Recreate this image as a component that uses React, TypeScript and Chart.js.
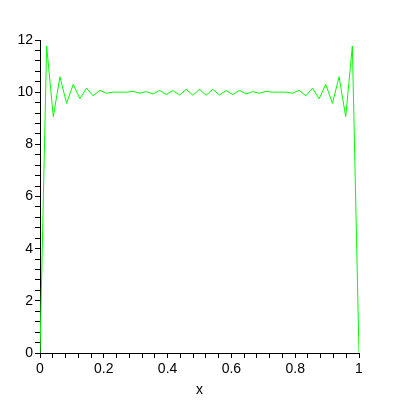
import React, { useEffect, useRef } from "react";
import { Chart, registerables } from "chart.js";

Chart.register(...registerables);

// sample positions along x (49 samples on [0, 1])
const xValues: number[] = [
  0, 0.0208, 0.0417, 0.0625, 0.0833, 0.1042, 0.125, 0.1458, 0.1667, 0.1875,
  0.2083, 0.2292, 0.25, 0.2708, 0.2917, 0.3125, 0.3333, 0.3542, 0.375, 0.3958,
  0.4167, 0.4375, 0.4583, 0.4792, 0.5, 0.5208, 0.5417, 0.5625, 0.5833, 0.6042,
  0.625, 0.6458, 0.6667, 0.6875, 0.7083, 0.7292, 0.75, 0.7708, 0.7917, 0.8125,
  0.8333, 0.8542, 0.875, 0.8958, 0.9167, 0.9375, 0.9583, 0.9792, 1,
];

// curve values
const yValues: number[] = [
  0, 11.77, 9.06, 10.59, 9.57, 10.3, 9.75, 10.15, 9.86, 10.07,
  9.96, 10.0, 10.0, 10.0, 10.03, 9.96, 10.02, 9.93, 10.07, 9.91,
  10.06, 9.89, 10.11, 9.88, 10.11, 9.88, 10.11, 9.89, 10.06, 9.91,
  10.07, 9.93, 10.02, 9.96, 10.03, 10.0, 10.0, 10.0, 9.96, 10.07,
  9.86, 10.15, 9.75, 10.3, 9.57, 10.59, 9.06, 11.77, 0,
];

const xLabelStep = 0.2;
const yLabelStep = 2;
const xTitle = "x";

export default function App() {
  const ref = useRef<HTMLCanvasElement | null>(null);

  useEffect(() => {
    if (!ref.current) return;
    const font = { family: "'Liberation Sans', Arial, sans-serif", size: 14 };
    const chart = new Chart(ref.current, {
      type: "line",
      data: {
        datasets: [
          {
            data: xValues.map((x, i) => ({ x, y: yValues[i] })),
            borderColor: "#00ff00",
            backgroundColor: "#00ff00",
            borderWidth: 1,
            pointRadius: 0,
            tension: 0,
            fill: false,
          },
        ],
      },
      options: {
        animation: false,
        responsive: false,
        devicePixelRatio: 1,
        layout: { padding: { top: 40, right: 41, left: 0, bottom: 0 } },
        plugins: {
          legend: { display: false },
          tooltip: { enabled: false },
        },
        scales: {
          x: {
            type: "linear",
            min: 0,
            max: 1,
            border: { display: true, color: "#000", width: 1 },
            grid: {
              display: true,
              drawOnChartArea: false,
              drawTicks: true,
              tickLength: 5,
              color: "#000",
            },
            ticks: {
              stepSize: 0.04,
              autoSkip: false,
              maxRotation: 0,
              color: "#000",
              padding: 3,
              font,
              callback: (v: any) => {
                const n = Number(v);
                const r = n / xLabelStep;
                return Math.abs(r - Math.round(r)) < 1e-6
                  ? String(Math.round(r * xLabelStep * 10) / 10)
                  : "";
              },
            },
            title: {
              display: true,
              text: xTitle,
              color: "#000",
              font,
              padding: { top: 0, bottom: 1 },
            },
            afterFit: (scale: any) => {
              scale.height = 47;
            },
          },
          y: {
            type: "linear",
            min: 0,
            max: 12,
            border: { display: true, color: "#000", width: 1 },
            grid: {
              display: true,
              drawOnChartArea: false,
              drawTicks: true,
              tickLength: 5,
              color: "#000",
            },
            ticks: {
              stepSize: 0.4,
              autoSkip: false,
              color: "#000",
              padding: 2,
              font,
              callback: (v: any) => {
                const n = Number(v);
                const r = n / yLabelStep;
                return Math.abs(r - Math.round(r)) < 1e-6
                  ? String(Math.round(r) * yLabelStep)
                  : "";
              },
            },
            afterFit: (scale: any) => {
              scale.width = 40;
            },
          },
        },
      },
    });
    return () => chart.destroy();
  }, []);

  return (
    <div
      style={{
        position: "absolute",
        left: 0,
        top: 0,
        width: 400,
        height: 400,
        background: "#fff",
      }}
    >
      <canvas ref={ref} width={400} height={400} />
    </div>
  );
}
